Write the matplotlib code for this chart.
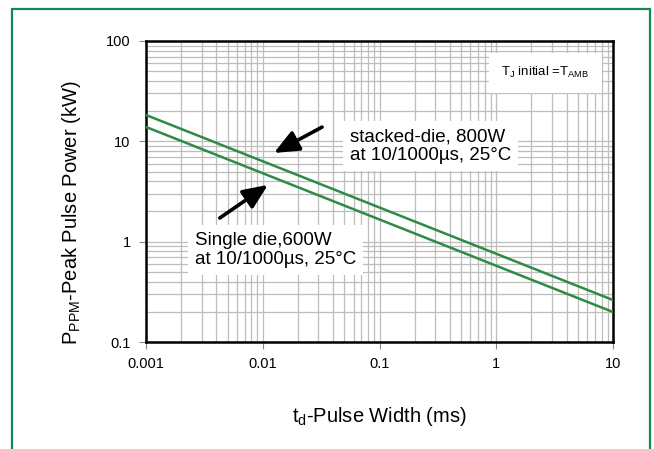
import matplotlib
matplotlib.use("Agg")
import matplotlib.pyplot as plt
from matplotlib.patches import Rectangle

plt.rcParams["font.family"] = ["Liberation Sans", "DejaVu Sans"]
plt.rcParams["mathtext.fontset"] = "custom"
plt.rcParams["mathtext.rm"] = "Liberation Sans"

# pulse width (ms) and peak pulse power (kW)
pulse_width = [0.001, 10]
stacked_die = [18.3, 0.262]
single_die = [13.9, 0.199]

x_ticks = [0.001, 0.01, 0.1, 1, 10]
x_labels = ["0.001", "0.01", "0.1", "1", "10"]
y_ticks = [0.1, 1, 10, 100]
y_labels = ["0.1", "1", "10", "100"]

green = "#2e8b45"
grid_col = "#bdbdbd"

fig = plt.figure(figsize=(6.54, 4.49), dpi=100)
fig.patches.append(Rectangle((12 / 654, -0.05), 638 / 654, 1 - 9 / 449 + 0.05,
                             transform=fig.transFigure, fill=False,
                             edgecolor="#14885a", linewidth=1.6))

ax = fig.add_axes([146 / 654, 1 - 342 / 449, 467 / 654, 301 / 449])
ax.set_xscale("log")
ax.set_yscale("log")
ax.set_xlim(0.001, 10)
ax.set_ylim(0.1, 100)

ax.grid(True, which="both", color=grid_col, linewidth=0.9)
ax.set_axisbelow(True)

ax.plot(pulse_width, stacked_die, color=green, linewidth=1.8, zorder=3)
ax.plot(pulse_width, single_die, color=green, linewidth=1.8, zorder=3)

ax.set_xticks(x_ticks)
ax.set_xticklabels(x_labels)
ax.set_yticks(y_ticks)
ax.set_yticklabels(y_labels)
ax.tick_params(which="major", direction="out", length=5, width=0.8,
               color="#888888", labelsize=10.5, pad=6)
ax.tick_params(which="minor", length=0)
for s in ax.spines.values():
    s.set_linewidth(1.8)
    s.set_color("black")

ax.set_xlabel(r"t$\mathregular{_d}$-Pulse Width (ms)", fontsize=14.5, labelpad=24)
ax.set_ylabel(r"P$\mathregular{_{PPM}}$-Peak Pulse Power (kW)", fontsize=14.5)
ax.yaxis.set_label_coords(-0.135, 0.43)

box = dict(facecolor="white", edgecolor="none", pad=5)
ax.text(0.437, 0.651, "stacked-die, 800W\nat 10/1000\u00b5s, 25\u00b0C",
        transform=ax.transAxes, fontsize=13.5, va="center", ha="left",
        bbox=box, zorder=4, linespacing=1.15)
ax.text(0.105, 0.306, "Single die,600W\nat 10/1000\u00b5s, 25\u00b0C",
        transform=ax.transAxes, fontsize=13.5, va="center", ha="left",
        bbox=box, zorder=4, linespacing=1.15)
ax.text(0.761, 0.894, r"T$\mathregular{_J}$ initial =T$\mathregular{_{AMB}}$",
        transform=ax.transAxes, fontsize=9.5, va="center", ha="left",
        bbox=dict(facecolor="white", edgecolor="none", pad=9), zorder=4)

arrow = dict(arrowstyle="-|>,head_length=1.5,head_width=0.65", color="black",
             linewidth=2.6, shrinkA=0, shrinkB=0)
ax.annotate("", xy=(0.274, 0.628), xytext=(0.377, 0.714),
            xycoords="axes fraction", arrowprops=arrow, zorder=5)
ax.annotate("", xy=(0.261, 0.522), xytext=(0.158, 0.412),
            xycoords="axes fraction", arrowprops=arrow, zorder=5)

fig.savefig("out.png", dpi=100)
